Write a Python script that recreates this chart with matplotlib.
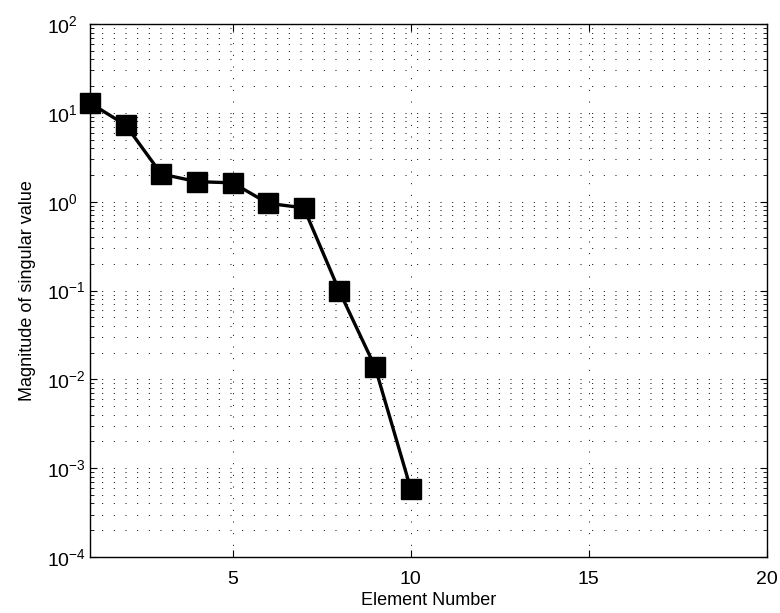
import numpy as np
import matplotlib.pyplot as plt
from matplotlib.ticker import LogLocator, FixedLocator, NullFormatter, LogFormatterSciNotation

plt.rcParams["font.family"] = ["Liberation Sans", "DejaVu Sans"]
plt.rcParams["mathtext.fontset"] = "custom"
plt.rcParams["mathtext.rm"] = "Liberation Sans"

# singular values
element = [1, 2, 3, 4, 5, 6, 7, 8, 9, 10]
sv = [12.9, 7.3, 2.05, 1.68, 1.63, 0.957, 0.853, 0.098, 0.0138, 0.00059]

xticks = [5, 10, 15, 20]
yticks = [1e-4, 1e-3, 1e-2, 1e-1, 1e0, 1e1, 1e2]

fig = plt.figure(figsize=(7.8, 6.13), dpi=100)
ax = fig.add_axes([0.1154, 0.0914, 0.8679, 0.8694])

ax.semilogy(element, sv, color="black", linewidth=2.4, marker="s",
            markersize=14, markerfacecolor="black", markeredgecolor="black",
            clip_on=False, zorder=5)

ax.set_xlim(1, 20)
ax.set_ylim(1e-4, 1e2)
ax.xaxis.set_major_locator(FixedLocator(xticks))
ax.yaxis.set_major_locator(FixedLocator(yticks))
ax.yaxis.set_major_formatter(LogFormatterSciNotation())
ax.yaxis.set_minor_locator(LogLocator(base=10, subs=np.arange(2, 10), numticks=10))
ax.yaxis.set_minor_formatter(NullFormatter())

dots = (0, (1, 11))
ax.grid(True, which="major", axis="both", linestyle=dots, color="black", linewidth=0.7)
ax.grid(True, which="minor", axis="y", linestyle=dots, color="black", linewidth=0.7)

ax.tick_params(which="both", direction="in", top=True, right=True, labelsize=14)
ax.tick_params(axis="x", pad=10)
ax.tick_params(axis="y", pad=31)
ax.tick_params(which="major", length=5)
ax.tick_params(which="minor", length=3)
for lab in ax.get_yticklabels():
    lab.set_horizontalalignment("left")
for s in ax.spines.values():
    s.set_linewidth(1.0)

ax.set_xlabel("Element Number", fontsize=13, labelpad=3)
ax.set_ylabel("Magnitude of singular value", fontsize=13, labelpad=8)

fig.savefig("out.png", dpi=100)
